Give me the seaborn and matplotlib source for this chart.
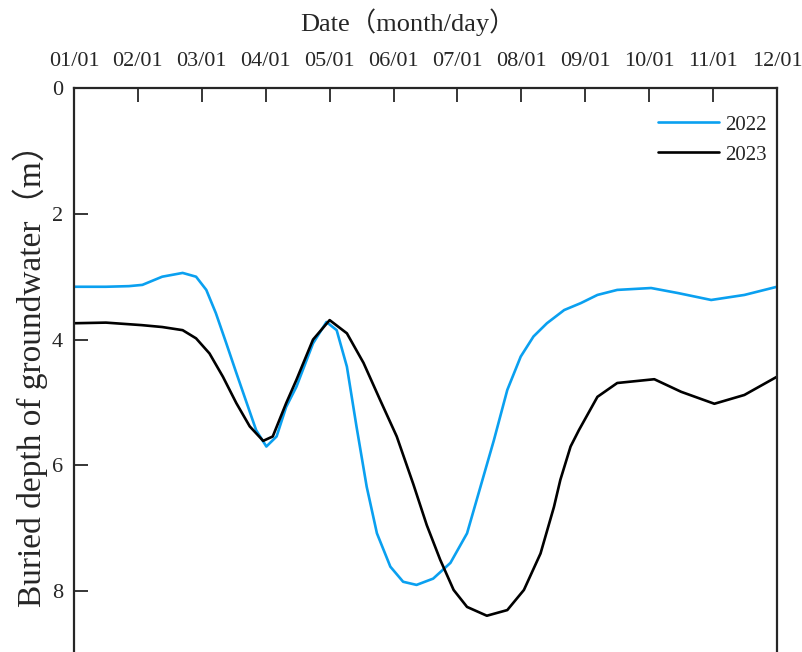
import pandas as pd
import matplotlib.pyplot as plt
import seaborn as sns

# Month positions (0 = 01/01 ... 11 = 12/01) and groundwater depth
months_2022 = [0.0, 0.5, 0.86, 1.07, 1.38, 1.70, 1.91, 2.07, 2.22, 2.38, 2.54, 2.70, 2.85,
               3.01, 3.17, 3.32, 3.48, 3.74, 3.95, 4.11, 4.27, 4.42, 4.58, 4.74, 4.95,
               5.15, 5.36, 5.62, 5.89, 6.15, 6.36, 6.57, 6.78, 6.99, 7.19, 7.40, 7.67,
               7.93, 8.19, 8.50, 9.03, 9.45, 9.97, 10.49, 11.0]
depth_2022 = [3.16, 3.16, 3.15, 3.13, 3.0, 2.94, 3.0, 3.21, 3.58, 4.05, 4.53, 5.0, 5.44,
              5.70, 5.54, 5.07, 4.75, 4.06, 3.72, 3.85, 4.43, 5.38, 6.34, 7.08, 7.61,
              7.85, 7.90, 7.80, 7.55, 7.08, 6.34, 5.60, 4.80, 4.27, 3.95, 3.74, 3.53,
              3.42, 3.29, 3.21, 3.18, 3.26, 3.37, 3.29, 3.16]

months_2023 = [0.0, 0.5, 1.06, 1.38, 1.70, 1.91, 2.12, 2.33, 2.54, 2.75, 2.96, 3.11,
               3.32, 3.48, 3.74, 4.0, 4.27, 4.53, 4.79, 5.05, 5.31, 5.52, 5.73, 5.94,
               6.15, 6.46, 6.78, 7.04, 7.30, 7.51, 7.61, 7.77, 7.90, 8.19, 8.50, 9.08,
               9.50, 10.02, 10.49, 11.0]
depth_2023 = [3.74, 3.73, 3.77, 3.80, 3.85, 3.98, 4.22, 4.59, 5.01, 5.38, 5.61, 5.54,
              5.01, 4.64, 4.0, 3.69, 3.90, 4.37, 4.96, 5.54, 6.30, 6.95, 7.50, 7.98,
              8.25, 8.39, 8.30, 7.98, 7.40, 6.66, 6.23, 5.70, 5.44, 4.91, 4.69, 4.63,
              4.83, 5.02, 4.88, 4.59]

tick_labels = ['01/01', '02/01', '03/01', '04/01', '05/01', '06/01',
               '07/01', '08/01', '09/01', '10/01', '11/01', '12/01']

df = pd.concat([
    pd.DataFrame({'month': months_2022, 'depth': depth_2022, 'year': '2022'}),
    pd.DataFrame({'month': months_2023, 'depth': depth_2023, 'year': '2023'}),
])

sns.set_style('ticks')
plt.rcParams['font.family'] = ['Liberation Serif', 'Noto Sans CJK SC']

fig = plt.figure(figsize=(8.03, 6.52), dpi=100)
W, H = 803, 652
# axes runs off the bottom of the figure, like the cropped original
ax = fig.add_axes([74 / W, (H - 88 - 629) / H, 703 / W, 629 / H])

sns.lineplot(data=df, x='month', y='depth', hue='year', sort=False,
             palette={'2022': '#0aa0f0', '2023': 'black'}, linewidth=1.9, ax=ax)

ax.set_xlim(0, 11)
ax.set_ylim(10, 0)
ax.set_xticks(range(12))
ax.set_xticklabels(tick_labels)
ax.set_yticks([0, 2, 4, 6, 8])
ax.xaxis.tick_top()
ax.xaxis.set_label_position('top')
ax.tick_params(axis='x', direction='in', length=10, width=1.3, labelsize=16, pad=12)
ax.tick_params(axis='y', direction='in', length=10, width=1.3, labelsize=16, pad=8)
for s in ax.spines.values():
    s.set_linewidth(1.6)

ax.set_xlabel('Date（month/day）', fontsize=19, va='center')
ax.xaxis.set_label_coords(0.475, 1.105)
ax.set_ylabel('Buried depth of groundwater（m）', fontsize=24, va='center')
ax.yaxis.set_label_coords(-0.062, 0.556)

leg = ax.legend(loc='upper right', frameon=False, fontsize=15, handlelength=2.9,
                handletextpad=0.3, labelspacing=0.5, borderaxespad=0,
                bbox_to_anchor=(0.997, 0.97))

fig.savefig('out.png', dpi=100)
